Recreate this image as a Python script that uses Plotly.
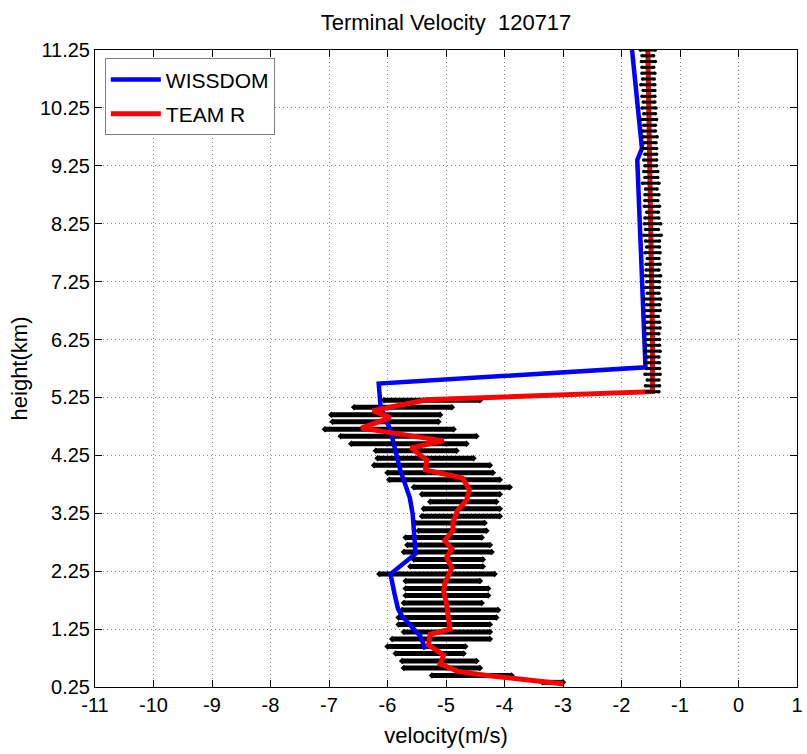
import plotly.graph_objects as go

# ---------------- data ----------------
title_text = "Terminal Velocity  120717"
x_ticks = [-11, -10, -9, -8, -7, -6, -5, -4, -3, -2, -1, 0, 1]
y_ticks = [0.25, 1.25, 2.25, 3.25, 4.25, 5.25, 6.25, 7.25, 8.25, 9.25, 10.25, 11.25]

# WISSDOM profile (height km, velocity m/s)
wis_h = [11.25, 9.55, 9.35, 5.77, 5.49, 5.11, 4.68, 3.99, 3.52, 3.24, 2.55, 2.2, 1.86, 1.6, 1.47, 1.3, 1.13, 0.9]
wis_v = [-1.82, -1.65, -1.73, -1.59, -6.15, -6.12, -5.95, -5.78, -5.62, -5.57, -5.52, -5.95, -5.88, -5.82, -5.75, -5.6, -5.44, -5.35]

# TEAM R profile
team_h = [11.25, 10.25, 9.25, 8.25, 7.25, 6.25, 5.35, 5.21, 5.02, 4.9, 4.72, 4.5, 4.38, 4.17, 4.0, 3.86,
          3.66, 3.47, 3.3, 3.1, 2.95, 2.78, 2.63, 2.49, 2.31, 2.04, 1.9, 1.68, 1.45, 1.25, 1.16, 0.98,
          0.8, 0.65, 0.52, 0.45, 0.3]
team_v = [-1.55, -1.53, -1.51, -1.49, -1.48, -1.47, -1.47, -5.33, -6.25, -5.95, -6.45, -5.04, -5.6, -5.33,
          -5.35, -4.72, -4.6, -4.65, -4.8, -4.88, -4.88, -5.02, -4.9, -4.99, -4.9, -5.02, -5.04, -4.99,
          -4.96, -4.93, -5.27, -5.3, -5.04, -5.1, -4.8, -4.3, -2.98]

# individual retrievals below 5.25 km: row height, leftmost and rightmost velocity
row_h = [5.2, 5.08, 4.95, 4.83, 4.7, 4.58, 4.45, 4.33, 4.2, 4.08, 3.95, 3.83, 3.7, 3.58, 3.45, 3.33,
         3.2, 3.08, 2.95, 2.83, 2.7, 2.58, 2.45, 2.33, 2.2, 2.08, 1.95, 1.83, 1.7, 1.58, 1.45, 1.33,
         1.2, 1.08, 0.95, 0.83, 0.7, 0.58, 0.45, 0.33]
row_lo = [-6.06, -6.57, -6.96, -6.94, -7.07, -6.8, -6.62, -6.2, -6.17, -6.23, -6.0, -5.97, -5.55, -5.41,
          -5.27, -5.38, -5.41, -5.52, -5.47, -5.69, -5.66, -5.72, -5.55, -5.61, -6.14, -5.69, -5.69,
          -5.69, -5.72, -5.75, -5.81, -5.81, -5.72, -5.92, -6.0, -5.86, -5.75, -5.72, -5.24, -3.35]
row_hi = [-4.42, -4.9, -5.1, -5.13, -4.87, -4.48, -4.65, -4.82, -4.53, -4.25, -4.2, -4.08, -3.91, -4.08,
          -4.14, -4.08, -4.08, -4.34, -4.31, -4.39, -4.25, -4.22, -4.37, -4.37, -4.17, -4.42, -4.28,
          -4.28, -4.39, -4.11, -4.14, -4.25, -4.25, -4.25, -4.67, -4.7, -4.48, -4.42, -3.88, -3.0]

# individual retrievals above 5.25 km: row height, centre and spread
top_h = [11.25, 11.15, 11.05, 10.95, 10.85, 10.75, 10.65, 10.55, 10.45, 10.35, 10.25, 10.15, 10.05,
         9.95, 9.85, 9.75, 9.65, 9.55, 9.45, 9.35, 9.25, 9.15, 9.05, 8.95, 8.85, 8.75, 8.65, 8.55,
         8.45, 8.35, 8.25, 8.15, 8.05, 7.95, 7.85, 7.75, 7.65, 7.55, 7.45, 7.35, 7.25, 7.15, 7.05,
         6.95, 6.85, 6.75, 6.65, 6.55, 6.45, 6.35, 6.25, 6.15, 6.05, 5.95, 5.85, 5.75, 5.65, 5.55,
         5.45, 5.35]
top_c = [-1.55, -1.55, -1.54, -1.55, -1.54, -1.54, -1.55, -1.53, -1.54, -1.53, -1.53, -1.52, -1.53,
         -1.52, -1.53, -1.51, -1.51, -1.52, -1.5, -1.51, -1.5, -1.5, -1.49, -1.5, -1.49, -1.48, -1.49,
         -1.48, -1.47, -1.48, -1.47, -1.48, -1.47, -1.47, -1.46, -1.47, -1.46, -1.46, -1.47, -1.46,
         -1.46, -1.47, -1.46, -1.47, -1.46, -1.46, -1.47, -1.46, -1.47, -1.46, -1.47, -1.46, -1.47,
         -1.46, -1.47, -1.46, -1.47, -1.46, -1.47, -1.47]
top_w = [0.26, 0.2, 0.24, 0.2, 0.22, 0.2, 0.24, 0.2, 0.22, 0.2, 0.24, 0.2, 0.26, 0.2, 0.22, 0.24,
         0.2, 0.24, 0.2, 0.22, 0.2, 0.24, 0.22, 0.28, 0.2, 0.24, 0.22, 0.26, 0.2, 0.24, 0.28, 0.22,
         0.3, 0.24, 0.22, 0.26, 0.2, 0.24, 0.22, 0.26, 0.22, 0.24, 0.2, 0.28, 0.22, 0.24, 0.2, 0.22,
         0.26, 0.2, 0.24, 0.22, 0.26, 0.2, 0.24, 0.22, 0.26, 0.2, 0.24, 0.22]

FONT = "Liberation Sans, Arial, sans-serif"

# ---------------- figure ----------------
fig = go.Figure()

# bottom rows of individual points
bx, by = [], []
for h, lo, hi in zip(row_h, row_lo, row_hi):
    bx += [lo, hi, None]
    by += [h, h, None]
fig.add_trace(go.Scatter(x=bx, y=by, mode="lines+markers", showlegend=False,
                         line=dict(color="black", width=5),
                         marker=dict(color="black", size=5, symbol="diamond"),
                         hoverinfo="skip"))

fig.add_trace(go.Scatter(x=wis_v, y=wis_h, mode="lines", name="WISSDOM",
                         legendgroup="a",
                         line=dict(color="#0000ff", width=4.5)))
fig.add_trace(go.Scatter(x=team_v, y=team_h, mode="lines", name="TEAM R",
                         legendgroup="b",
                         line=dict(color="#ff0000", width=5)))

# top blobs (drawn over the red line)
tx, ty = [], []
for h, c, w in zip(top_h, top_c, top_w):
    tx += [c - w / 2, c + w / 2, None]
    ty += [h, h, None]
fig.add_trace(go.Scatter(x=tx, y=ty, mode="lines+markers", showlegend=False,
                         line=dict(color="black", width=3),
                         marker=dict(color="black", size=3.5, symbol="circle"),
                         hoverinfo="skip"))

axis_common = dict(showline=True, linecolor="black", linewidth=1, mirror="ticks",
                   ticks="inside", ticklen=7, tickcolor="black", tickwidth=1,
                   showgrid=True, gridcolor="#8a8a8a", griddash="1px,3px", gridwidth=1,
                   zeroline=False, ticklabeloverflow="allow",
                   tickfont=dict(family=FONT, size=20, color="black"))

fig.update_xaxes(range=[-11, 1], tickvals=x_ticks, ticktext=[str(v) for v in x_ticks],
                 title=dict(text="velocity(m/s)", font=dict(family=FONT, size=22, color="black"),
                            standoff=12),
                 **axis_common)
fig.update_yaxes(range=[0.25, 11.25], tickvals=y_ticks, ticktext=[f"{v:.2f}" for v in y_ticks],
                 title=dict(text="height(km)", font=dict(family=FONT, size=22, color="black"),
                            standoff=6),
                 **axis_common)

fig.update_layout(
    width=807, height=754,
    margin=dict(l=95, r=4, t=50, b=67),
    paper_bgcolor="white", plot_bgcolor="white",
    title=dict(text=title_text, x=0.5, xref="paper", y=1 - 22 / 754, yref="container",
               yanchor="middle", xanchor="center",
               font=dict(family=FONT, size=22, color="black")),
    legend=dict(x=0.014, y=0.987, xanchor="left", yanchor="top",
                bgcolor="white", bordercolor="#808080", borderwidth=1,
                font=dict(family=FONT, size=21, color="black"),
                itemwidth=50, tracegroupgap=4),
    showlegend=True,
)

fig.write_html("out.html")
